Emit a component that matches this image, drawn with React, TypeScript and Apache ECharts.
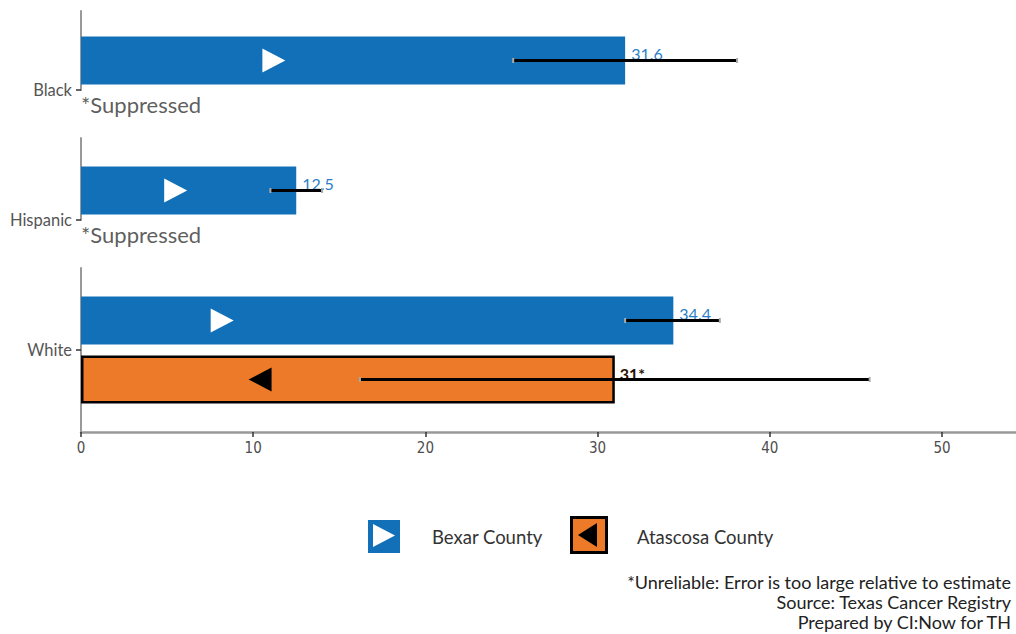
import React, { useEffect, useRef } from "react";
import * as echarts from "echarts";

// ---- data ----
const categories = ["Black", "Hispanic", "White"];
const bexarRate = [31.6, 12.5, 34.4];
const bexarLow = [25.1, 11.0, 31.6];
const bexarHigh = [38.1, 14.0, 37.1];
const atascosaRate: (number | null)[] = [null, null, 31.0];
const atascosaLow: (number | null)[] = [null, null, 16.2];
const atascosaHigh: (number | null)[] = [null, null, 45.8];
const atascosaUnreliable = [false, false, true];
const bexarMarker = [11.2, 5.5, 8.2];
const atascosaMarker: (number | null)[] = [null, null, 10.4];
const suppressedNote = "*Suppressed";
const xTicks = { min: 0, max: 54.3, interval: 10 };
const legendNames = ["Bexar County", "Atascosa County"];
const footerLines = [
  "*Unreliable: Error is too large relative to estimate",
  "Source: Texas Cancer Registry",
  "Prepared by CI:Now for TH",
];

// ---- style ----
const BLUE = "#1170b8";
const ORANGE = "#ec7a28";
const FONT = 'Lato, "Noto Sans", sans-serif';
const BAR_W = 48;
const GAP_PCT = "23%";
const HALF = (48 + 11) / 2;
const panelTop = [11, 138, 268];
const panelHeight = [79, 82, 164];

export default function App() {
  const ref = useRef<HTMLDivElement>(null);
  useEffect(() => {
    const chart = echarts.init(ref.current!, undefined, { renderer: "svg" });
    const grid: any[] = [];
    const xAxis: any[] = [];
    const yAxis: any[] = [];
    const series: any[] = [];

    categories.forEach((cat, i) => {
      const last = i === categories.length - 1;
      grid.push({ left: 81, right: 0, top: panelTop[i], height: panelHeight[i] });
      xAxis.push({
        type: "value",
        gridIndex: i,
        min: xTicks.min,
        max: xTicks.max,
        interval: xTicks.interval,
        show: last,
        splitLine: { show: false },
        axisLine: { show: true, lineStyle: { color: "#999", width: 2.5 } },
        axisTick: { show: true, length: 5, lineStyle: { color: "#333", width: 1.5 } },
        axisLabel: {
          color: "#4d4d4d",
          fontSize: 15,
          margin: 8,
          showMaxLabel: false,
          fontFamily: '"Liberation Sans Narrow", "DejaVu Sans Condensed", sans-serif',
        },
      });
      const catData = last ? [cat] : ["", cat];
      const catIdx = last ? 0 : 1;
      yAxis.push({
        type: "category",
        gridIndex: i,
        inverse: true,
        boundaryGap: last,
        data: catData,
        axisLine: { show: true, lineStyle: { color: "#999", width: 2 } },
        axisTick: {
          show: true,
          length: 5,
          alignWithLabel: true,
          interval: (_idx: number, v: string) => v !== "",
          lineStyle: { color: "#333", width: 1.5 },
        },
        axisLabel: { color: "#555", fontSize: 16.5, margin: 9, fontFamily: FONT },
      });

      const aVal = atascosaRate[i];
      series.push({
        type: "bar",
        name: legendNames[0],
        xAxisIndex: i,
        yAxisIndex: i,
        barWidth: BAR_W,
        barGap: GAP_PCT,
        itemStyle: { color: BLUE },
        label: {
          show: true,
          position: "right",
          distance: 6,
          offset: [0, -7],
          color: "#2a7fc6",
          fontSize: 16,
          fontFamily: FONT,
        },
        data: [[bexarRate[i], catIdx]],
        z: 2,
      });
      series.push({
        type: "bar",
        name: legendNames[1],
        xAxisIndex: i,
        yAxisIndex: i,
        barWidth: BAR_W,
        barGap: GAP_PCT,
        itemStyle: { color: ORANGE, borderColor: "#000", borderWidth: 2.5 },
        label: {
          show: true,
          position: "right",
          distance: 5,
          offset: [0, -6],
          color: "#2a1200",
          fontWeight: "bold",
          fontSize: 16,
          fontFamily: FONT,
          formatter: (p: any) => `${p.value[0]}${atascosaUnreliable[i] ? "*" : ""}`,
        },
        data: aVal == null ? [] : [[aVal, catIdx]],
        z: 2,
      });

      const errSeries = (low: number | null, high: number | null, off: number) => ({
        type: "custom",
        xAxisIndex: i,
        yAxisIndex: i,
        z: 3,
        encode: { x: [0, 1], y: 2 },
        data: low == null || high == null ? [] : [[low, high, catIdx]],
        renderItem: (_p: any, api: any) => {
          const a = api.coord([api.value(0), api.value(2)]);
          const b = api.coord([api.value(1), api.value(2)]);
          const y = a[1] + off;
          return {
            type: "group",
            children: [
              { type: "line", shape: { x1: a[0], y1: y, x2: b[0], y2: y }, style: { stroke: "#000", lineWidth: 3 } },
              { type: "rect", shape: { x: a[0] - 1, y: y - 2.5, width: 2, height: 5 }, style: { fill: "#aaa" } },
              { type: "rect", shape: { x: b[0] - 1, y: y - 2.5, width: 2, height: 5 }, style: { fill: "#aaa" } },
            ],
          };
        },
      });
      series.push(errSeries(bexarLow[i], bexarHigh[i], -HALF));
      series.push(errSeries(atascosaLow[i], atascosaHigh[i], HALF));

      series.push({
        type: "scatter",
        xAxisIndex: i,
        yAxisIndex: i,
        symbol: "path://M0,0L10,5L0,10Z",
        symbolKeepAspect: false,
        symbolSize: [23, 24],
        symbolOffset: [0, -HALF],
        itemStyle: { color: "#fff", opacity: 1 },
        data: [[bexarMarker[i], catIdx]],
        z: 4,
      });
      const am = atascosaMarker[i];
      series.push({
        type: "scatter",
        xAxisIndex: i,
        yAxisIndex: i,
        symbol: "path://M10,0L0,5L10,10Z",
        symbolKeepAspect: false,
        symbolSize: [23, 24],
        symbolOffset: [0, HALF],
        itemStyle: { color: "#000", opacity: 1 },
        data: am == null ? [] : [[am, catIdx]],
        z: 4,
      });
      if (aVal == null) {
        series.push({
          type: "scatter",
          xAxisIndex: i,
          yAxisIndex: i,
          symbolSize: 0,
          silent: true,
          label: {
            show: true,
            position: "right",
            distance: 0,
            offset: [0, 14],
            color: "#333",
            fontSize: 22,
            fontFamily: FONT,
            formatter: suppressedNote,
          },
          data: [[0, catIdx]],
          z: 4,
        });
      }
    });

    const graphic: any[] = [
      { type: "rect", shape: { x: 368, y: 520, width: 32, height: 33 }, style: { fill: BLUE } },
      { type: "polygon", shape: { points: [[373, 524], [395, 535.5], [373, 547]] }, style: { fill: "#fff" } },
      {
        type: "text", x: 432, y: 537,
        style: { text: legendNames[0], fill: "#333", fontSize: 18.5, fontFamily: FONT, verticalAlign: "middle" },
      },
      { type: "rect", shape: { x: 571.5, y: 517.5, width: 35, height: 35 }, style: { fill: ORANGE, stroke: "#000", lineWidth: 3 } },
      { type: "polygon", shape: { points: [[578, 535], [597, 523], [597, 547]] }, style: { fill: "#000" } },
      {
        type: "text", x: 637, y: 537,
        style: { text: legendNames[1], fill: "#333", fontSize: 18.5, fontFamily: FONT, verticalAlign: "middle" },
      },
      ...footerLines.map((t, k) => ({
        type: "text",
        x: 1011,
        y: 582 + k * 20,
        style: { text: t, fill: "#222", fontSize: 18, fontFamily: FONT, align: "right", verticalAlign: "middle" },
      })),
    ];

    chart.setOption({
      animation: false,
      backgroundColor: "#fff",
      textStyle: { fontFamily: FONT },
      grid,
      xAxis,
      yAxis,
      series,
      graphic,
    });
    return () => chart.dispose();
  }, []);
  return (
    <div
      ref={ref}
      style={{ position: "fixed", left: 0, top: 0, width: 1016, height: 634, overflow: "hidden" }}
    />
  );
}
